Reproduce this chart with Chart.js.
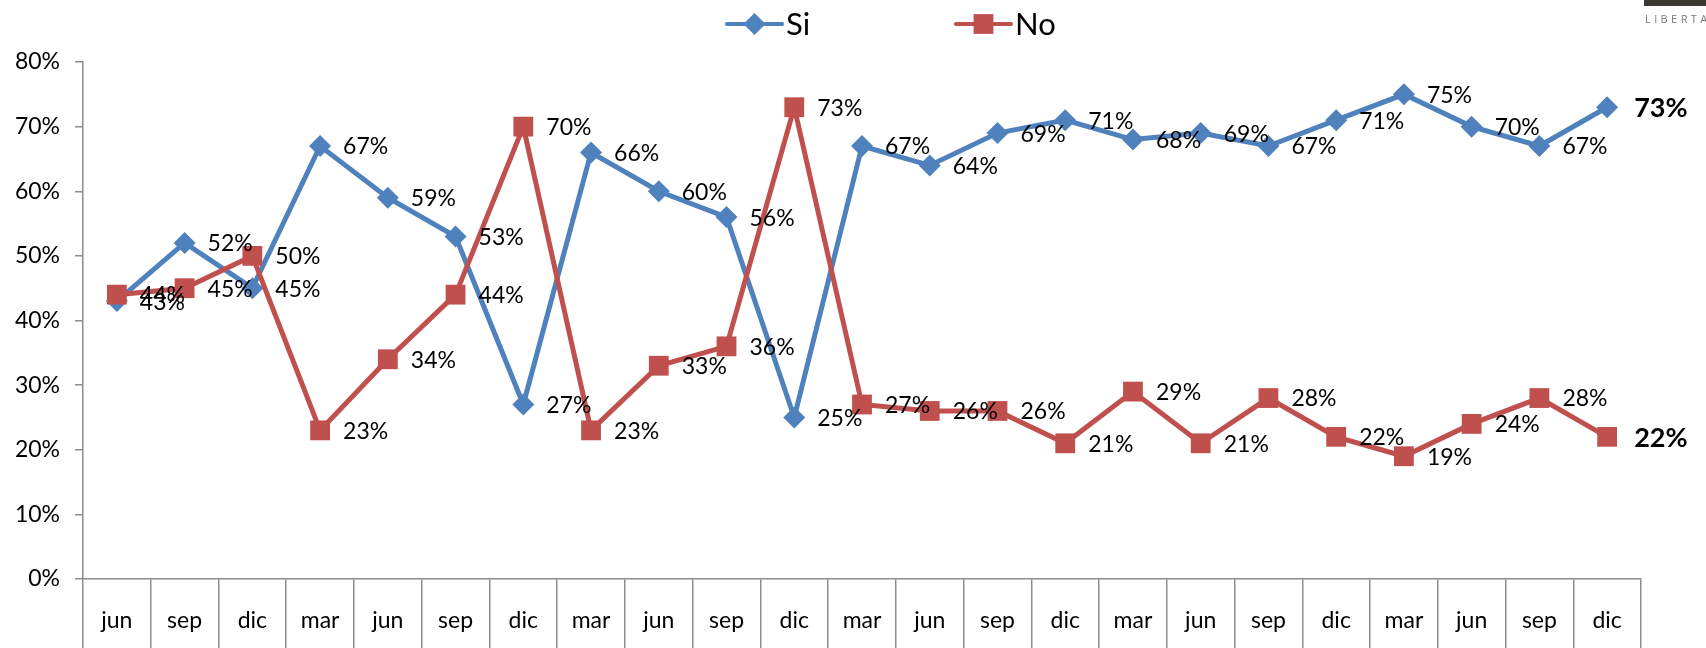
<!DOCTYPE html>
<html>
<head>
<meta charset="utf-8">
<script src="https://cdn.jsdelivr.net/npm/chart.js@4/dist/chart.umd.min.js"></script>
<style>
    html, body { margin: 0; padding: 0; background: #fff; overflow: hidden; }
    #wrap { position: relative; width: 1706px; height: 648px; }
    #logo-bar { position: absolute; left: 1644px; top: 0; width: 62px; height: 6px; background: #3b3733; }
    #logo-text { position: absolute; left: 1645px; top: 11px; font: 11px "Open Sans"; letter-spacing: 3.4px; color: #7a7a7a; white-space: nowrap; }
</style>
</head>
<body>
<div id="wrap">
    <canvas id="lineChart" width="1706" height="648"></canvas>
    <div id="logo-bar"></div>
    <div id="logo-text">LIBERTA</div>
</div>
<script>
// Data
const categories = ["jun", "sep", "dic", "mar", "jun", "sep", "dic", "mar", "jun", "sep", "dic", "mar",
    "jun", "sep", "dic", "mar", "jun", "sep", "dic", "mar", "jun", "sep", "dic"];
const siValues = [43, 52, 45, 67, 59, 53, 27, 66, 60, 56, 25, 67, 64, 69, 71, 68, 69, 67, 71, 75, 70, 67, 73];
const noValues = [44, 45, 50, 23, 34, 44, 70, 23, 33, 36, 73, 27, 26, 26, 21, 29, 21, 28, 22, 19, 24, 28, 22];
const yTicks = [0, 10, 20, 30, 40, 50, 60, 70, 80];

const BLUE = "#4F81BD";
const RED = "#C0504D";
const AXIS = "#8c8c8c";
const FONT = "Lato";

function drawMarker(ctx, style, x, y, r) {
    ctx.beginPath();
    if (style === "rectRot") {
        ctx.moveTo(x - r, y);
        ctx.lineTo(x, y - r);
        ctx.lineTo(x + r, y);
        ctx.lineTo(x, y + r);
    } else {
        const s = Math.SQRT1_2 * r;
        ctx.rect(x - s, y - s, 2 * s, 2 * s);
    }
    ctx.closePath();
    ctx.fill();
}

// legend drawn as line + marker like the original
const lineLegend = {
    id: "lineLegend",
    afterDraw(chart) {
        const ctx = chart.ctx;
        const y = 24;
        const starts = [727, 956];
        chart.data.datasets.forEach((ds, i) => {
            const x = starts[i];
            ctx.save();
            ctx.strokeStyle = ds.borderColor;
            ctx.fillStyle = ds.borderColor;
            ctx.lineWidth = 4;
            ctx.lineCap = "round";
            ctx.beginPath();
            ctx.moveTo(x, y);
            ctx.lineTo(x + 55, y);
            ctx.stroke();
            drawMarker(ctx, ds.pointStyle, x + 27.5, y, ds.pointRadius);
            ctx.fillStyle = "#000";
            ctx.font = "31px " + FONT;
            ctx.textAlign = "left";
            ctx.textBaseline = "middle";
            ctx.fillText(ds.label, x + 59, y + 1);
            ctx.restore();
        });
    }
};

// percentage labels to the right of each point, last one bold
const valueLabels = {
    id: "valueLabels",
    afterDatasetsDraw(chart) {
        const ctx = chart.ctx;
        chart.data.datasets.forEach((ds, i) => {
            const meta = chart.getDatasetMeta(i);
            meta.data.forEach((pt, j) => {
                const last = j === ds.data.length - 1;
                ctx.save();
                ctx.font = (last ? "bold 27px " : "23px ") + FONT;
                ctx.fillStyle = "#000";
                ctx.textAlign = "left";
                ctx.textBaseline = "middle";
                ctx.fillText(ds.data[j] + "%", pt.x + (last ? 27 : 23), pt.y + 1);
                ctx.restore();
            });
        });
    }
};

const ctxLine = document.getElementById("lineChart").getContext("2d");
new Chart(ctxLine, {
    type: "line",
    data: {
        labels: categories,
        datasets: [{
            label: "Si",
            data: siValues,
            borderColor: BLUE,
            backgroundColor: BLUE,
            borderWidth: 5,
            pointStyle: "rectRot",
            pointRadius: 11,
            pointBorderWidth: 0,
            tension: 0,
            fill: false,
            order: 1
        }, {
            label: "No",
            data: noValues,
            borderColor: RED,
            backgroundColor: RED,
            borderWidth: 5,
            pointStyle: "rect",
            pointRadius: 14,
            pointBorderWidth: 0,
            tension: 0,
            fill: false,
            order: 0
        }]
    },
    options: {
        responsive: false,
        animation: false,
        layout: { padding: { top: 62, right: 65, left: 0, bottom: 0 } },
        plugins: {
            legend: { display: false },
            tooltip: { enabled: false }
        },
        scales: {
            x: {
                offset: true,
                grid: { offset: true, drawOnChartArea: false, drawTicks: true, tickLength: 69, color: AXIS, lineWidth: 1.5 },
                border: { color: AXIS, width: 1.5 },
                ticks: { font: { family: FONT, size: 23 }, color: "#000", padding: -41, maxRotation: 0, autoSkip: false },
                afterFit(scale) { scale.height = 69; }
            },
            y: {
                min: yTicks[0],
                max: yTicks[yTicks.length - 1],
                afterBuildTicks(scale) { scale.ticks = yTicks.map(v => ({ value: v })); },
                ticks: { callback: v => v + "%", font: { family: FONT, size: 23 }, color: "#000", padding: 15 },
                grid: { drawOnChartArea: false, tickLength: 8, color: AXIS, lineWidth: 1.5 },
                border: { color: AXIS, width: 1.5 },
                afterFit(scale) { scale.width = 83; }
            }
        }
    },
    plugins: [lineLegend, valueLabels]
});
</script>
</body>
</html>
